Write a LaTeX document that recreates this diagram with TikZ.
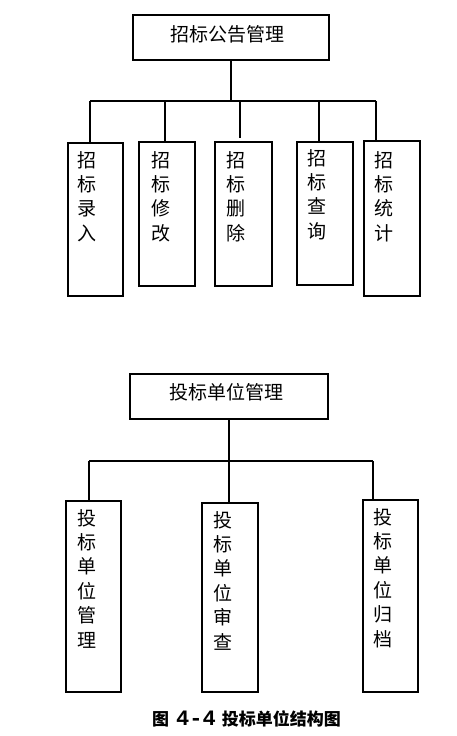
\documentclass[tikz,border=0pt]{standalone}
\usepackage{fontspec}
\newfontfamily\cjk{Noto Sans CJK SC}
\newfontfamily\monob{Liberation Mono}
\begin{document}
\begin{tikzpicture}[x=1pt,y=-1pt,
  box/.style={draw=black,line width=1.2pt,rectangle,inner sep=0pt},
  vtext/.style={font=\cjk\fontsize{19}{24.4}\selectfont,align=center,anchor=north,inner sep=0pt},
  htext/.style={font=\cjk\fontsize{19}{24}\selectfont,inner sep=0pt},
  link/.style={draw=black,line width=1.2pt}]
\useasboundingbox (0,0) rectangle (457,736);
% ---------- top tree ----------
\node[box,minimum width=196pt,minimum height=45pt] (r1) at (231,37.5) {};
\node[htext] (r1t) at (227,34) {招标公告管理};
\coordinate (bus1) at (231,101);
\coordinate (bl1) at (90,101);
\coordinate (br1) at (376,101);
\node[box,minimum width=55pt,minimum height=153pt] (c1) at (95.5,219.5) {};
\node[box,minimum width=56pt,minimum height=144pt] (c2) at (167,214) {};
\node[box,minimum width=57pt,minimum height=144pt] (c3) at (243.5,214) {};
\node[box,minimum width=56pt,minimum height=143pt] (c4) at (325,213.5) {};
\node[box,minimum width=56pt,minimum height=155pt] (c5) at (392,218.5) {};
\coordinate (k1) at (90,101);
\coordinate (k2) at (165,101);
\coordinate (k3) at (240,101);
\coordinate (k4) at (319,101);
\coordinate (k5) at (376,101);
\node[vtext] (t1) at (86.7,151) {招\\标\\录\\入};
\node[vtext] (t2) at (160.5,151) {招\\标\\修\\改};
\node[vtext] (t3) at (235.7,151) {招\\标\\删\\除};
\node[vtext] (t4) at (317,149) {招\\标\\查\\询};
\node[vtext] (t5) at (384,151) {招\\标\\统\\计};
\draw[link] (r1.south) -- (bus1);
\draw[link] (bl1) -- (br1);
\draw[link] (k1) -- (k1 |- c1.north);
\draw[link] (k2) -- (k2 |- c2.north);
\draw[link] (k3) -- ([yshift=3pt]k3 |- c3.north);
\draw[link] (k4) -- (k4 |- c4.north);
\draw[link] (k5) -- (k5 |- c5.north);
% ---------- bottom tree ----------
\node[box,minimum width=198pt,minimum height=45pt] (r2) at (229,396.5) {};
\node[htext] (r2t) at (226,392) {投标单位管理};
\coordinate (bus2) at (229,461);
\coordinate (bl2) at (89,461);
\coordinate (br2) at (373,461);
\node[box,minimum width=55pt,minimum height=191pt] (d1) at (93.5,596.5) {};
\node[box,minimum width=56pt,minimum height=189pt] (d2) at (230,597.5) {};
\node[box,minimum width=55pt,minimum height=192pt] (d3) at (390.5,596) {};
\node[vtext] (u1) at (87,509) {投\\标\\单\\位\\管\\理};
\node[vtext] (u2) at (223,511) {投\\标\\单\\位\\审\\查};
\node[vtext] (u3) at (383,508) {投\\标\\单\\位\\归\\档};
\draw[link] (r2.south) -- (bus2);
\draw[link] (bl2) -- (br2);
\draw[link] (bl2) -- (bl2 |- d1.north);
\draw[link] (bus2) -- (bus2 |- d2.north);
\draw[link] (br2) -- (br2 |- d3.north);
% ---------- caption ----------
\node[font=\cjk\bfseries\fontsize{17}{18}\selectfont,inner sep=0pt,anchor=west] (cap) at (152,719)
  {图\hspace{7pt}{\monob\bfseries\fontsize{22}{22}\selectfont 4-4}\hspace{6pt}投标单位结构图};
\end{tikzpicture}
\end{document}
